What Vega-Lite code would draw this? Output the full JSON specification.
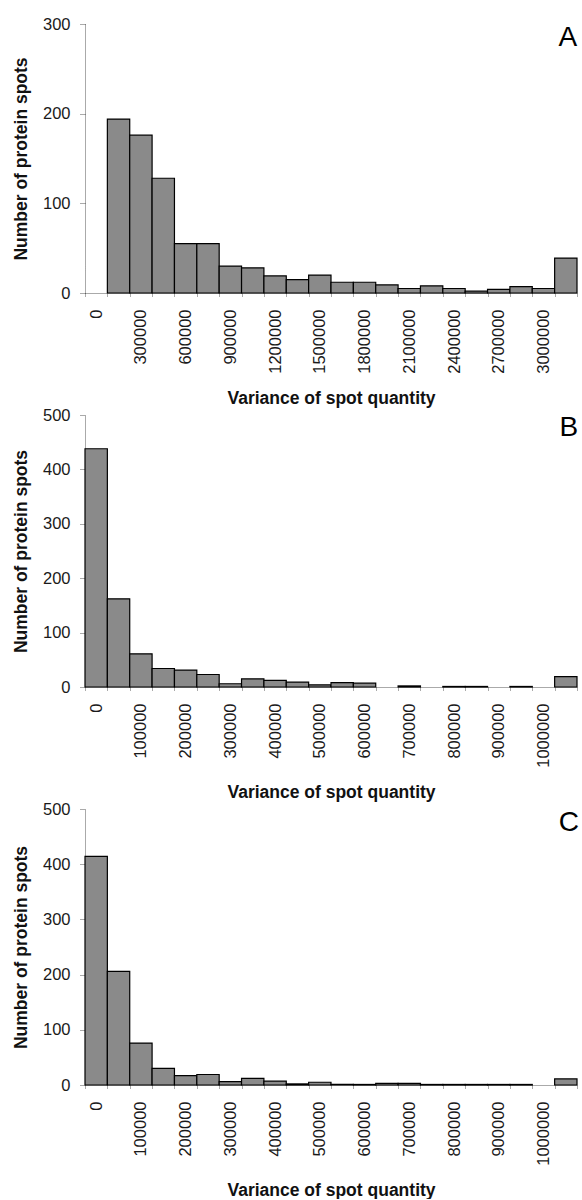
{
  "$schema": "https://vega.github.io/schema/vega-lite/v6.json",
  "padding": {"top": 16, "left": 12, "right": 5, "bottom": 0},
  "background": "white",
  "config": {
    "font": "Liberation Sans",
    "view": {"stroke": null},
    "concat": {"spacing": 0},
    "axis": {
      "labelFont": "Liberation Sans", "labelFontSize": 16.5, "labelColor": "#1a1a1a",
      "titleFont": "Liberation Sans", "titleFontSize": 17.5, "titleFontWeight": "bold", "titleColor": "#111",
      "grid": false, "domainColor": "#555", "domainDash": [1, 1], "tickColor": "#555", "tickDash": [1, 1]
    },
    "axisX": {"labelAngle": -90, "tickBand": "extent", "tickSize": 4, "labelPadding": 12, "titlePadding": 16},
    "axisY": {"tickSize": 5, "labelPadding": 10, "titlePadding": 12}
  },
  "vconcat": [
    {
      "width": 492, "height": 269,
      "layer": [
        {
          "data": {"values": [
            {"bin": "0", "count": 0}, {"bin": "150000", "count": 194}, {"bin": "300000", "count": 176},
            {"bin": "450000", "count": 128}, {"bin": "600000", "count": 55}, {"bin": "750000", "count": 55},
            {"bin": "900000", "count": 30}, {"bin": "1050000", "count": 28}, {"bin": "1200000", "count": 19},
            {"bin": "1350000", "count": 15}, {"bin": "1500000", "count": 20}, {"bin": "1650000", "count": 12},
            {"bin": "1800000", "count": 12}, {"bin": "1950000", "count": 9}, {"bin": "2100000", "count": 5},
            {"bin": "2250000", "count": 8}, {"bin": "2400000", "count": 5}, {"bin": "2550000", "count": 2},
            {"bin": "2700000", "count": 4}, {"bin": "2850000", "count": 7}, {"bin": "3000000", "count": 5},
            {"bin": "More", "count": 39}
          ]},
          "mark": {"type": "bar", "fill": "#8a8a8a", "stroke": "#000", "strokeWidth": 1.2},
          "encoding": {
            "x": {"field": "bin", "type": "ordinal", "sort": null,
                  "scale": {"paddingInner": 0, "paddingOuter": 0,
                            "domain": ["0","150000","300000","450000","600000","750000","900000","1050000","1200000","1350000","1500000","1650000","1800000","1950000","2100000","2250000","2400000","2550000","2700000","2850000","3000000","More"]},
                  "axis": {"title": "Variance of spot quantity",
                           "labelExpr": "indexof(['0','300000','600000','900000','1200000','1500000','1800000','2100000','2400000','2700000','3000000'], datum.value) >= 0 ? datum.label : ''"}},
            "y": {"field": "count", "type": "quantitative", "scale": {"domain": [0, 300]},
                  "axis": {"title": "Number of protein spots", "values": [0, 100, 200, 300]}},
            "strokeOpacity": {"condition": {"test": "datum.count == 0", "value": 0}, "value": 1}
          }
        },
        {
          "data": {"values": [{"panel": "A", "bin": "More", "top": 300}]},
          "mark": {"type": "text", "fontSize": 28, "baseline": "top", "align": "center", "dx": 2, "color": "#000", "font": "Liberation Sans"},
          "encoding": {
            "x": {"field": "bin", "type": "ordinal", "sort": null},
            "y": {"field": "top", "type": "quantitative"},
            "text": {"field": "panel"}
          }
        }
      ]
    },
    {
      "width": 492, "height": 272,
      "layer": [
        {
          "data": {"values": [
            {"bin": "0", "count": 438}, {"bin": "50000", "count": 162}, {"bin": "100000", "count": 61},
            {"bin": "150000", "count": 34}, {"bin": "200000", "count": 31}, {"bin": "250000", "count": 23},
            {"bin": "300000", "count": 6}, {"bin": "350000", "count": 15}, {"bin": "400000", "count": 12},
            {"bin": "450000", "count": 9}, {"bin": "500000", "count": 4}, {"bin": "550000", "count": 8},
            {"bin": "600000", "count": 7}, {"bin": "650000", "count": 0}, {"bin": "700000", "count": 2},
            {"bin": "750000", "count": 0}, {"bin": "800000", "count": 1}, {"bin": "850000", "count": 1},
            {"bin": "900000", "count": 0}, {"bin": "950000", "count": 1}, {"bin": "1000000", "count": 0},
            {"bin": "More", "count": 19}
          ]},
          "mark": {"type": "bar", "fill": "#8a8a8a", "stroke": "#000", "strokeWidth": 1.2},
          "encoding": {
            "x": {"field": "bin", "type": "ordinal", "sort": null,
                  "scale": {"paddingInner": 0, "paddingOuter": 0,
                            "domain": ["0","50000","100000","150000","200000","250000","300000","350000","400000","450000","500000","550000","600000","650000","700000","750000","800000","850000","900000","950000","1000000","More"]},
                  "axis": {"title": "Variance of spot quantity",
                           "labelExpr": "indexof(['0','100000','200000','300000','400000','500000','600000','700000','800000','900000','1000000'], datum.value) >= 0 ? datum.label : ''"}},
            "y": {"field": "count", "type": "quantitative", "scale": {"domain": [0, 500]},
                  "axis": {"title": "Number of protein spots", "values": [0, 100, 200, 300, 400, 500]}},
            "strokeOpacity": {"condition": {"test": "datum.count == 0", "value": 0}, "value": 1}
          }
        },
        {
          "data": {"values": [{"panel": "B", "bin": "More", "top": 500}]},
          "mark": {"type": "text", "fontSize": 28, "baseline": "top", "align": "center", "dx": 3, "dy": -1, "color": "#000", "font": "Liberation Sans"},
          "encoding": {
            "x": {"field": "bin", "type": "ordinal", "sort": null},
            "y": {"field": "top", "type": "quantitative"},
            "text": {"field": "panel"}
          }
        }
      ]
    },
    {
      "width": 492, "height": 276,
      "layer": [
        {
          "data": {"values": [
            {"bin": "0", "count": 414}, {"bin": "50000", "count": 206}, {"bin": "100000", "count": 76},
            {"bin": "150000", "count": 30}, {"bin": "200000", "count": 17}, {"bin": "250000", "count": 19},
            {"bin": "300000", "count": 6}, {"bin": "350000", "count": 12}, {"bin": "400000", "count": 7},
            {"bin": "450000", "count": 2}, {"bin": "500000", "count": 5}, {"bin": "550000", "count": 1},
            {"bin": "600000", "count": 1}, {"bin": "650000", "count": 3}, {"bin": "700000", "count": 3},
            {"bin": "750000", "count": 1}, {"bin": "800000", "count": 1}, {"bin": "850000", "count": 1},
            {"bin": "900000", "count": 1}, {"bin": "950000", "count": 1}, {"bin": "1000000", "count": 0},
            {"bin": "More", "count": 11}
          ]},
          "mark": {"type": "bar", "fill": "#8a8a8a", "stroke": "#000", "strokeWidth": 1.2},
          "encoding": {
            "x": {"field": "bin", "type": "ordinal", "sort": null,
                  "scale": {"paddingInner": 0, "paddingOuter": 0,
                            "domain": ["0","50000","100000","150000","200000","250000","300000","350000","400000","450000","500000","550000","600000","650000","700000","750000","800000","850000","900000","950000","1000000","More"]},
                  "axis": {"title": "Variance of spot quantity",
                           "labelExpr": "indexof(['0','100000','200000','300000','400000','500000','600000','700000','800000','900000','1000000'], datum.value) >= 0 ? datum.label : ''"}},
            "y": {"field": "count", "type": "quantitative", "scale": {"domain": [0, 500]},
                  "axis": {"title": "Number of protein spots", "values": [0, 100, 200, 300, 400, 500]}},
            "strokeOpacity": {"condition": {"test": "datum.count == 0", "value": 0}, "value": 1}
          }
        },
        {
          "data": {"values": [{"panel": "C", "bin": "More", "top": 500}]},
          "mark": {"type": "text", "fontSize": 28, "baseline": "top", "align": "center", "dx": 3, "color": "#000", "font": "Liberation Sans"},
          "encoding": {
            "x": {"field": "bin", "type": "ordinal", "sort": null},
            "y": {"field": "top", "type": "quantitative"},
            "text": {"field": "panel"}
          }
        }
      ]
    }
  ]
}
